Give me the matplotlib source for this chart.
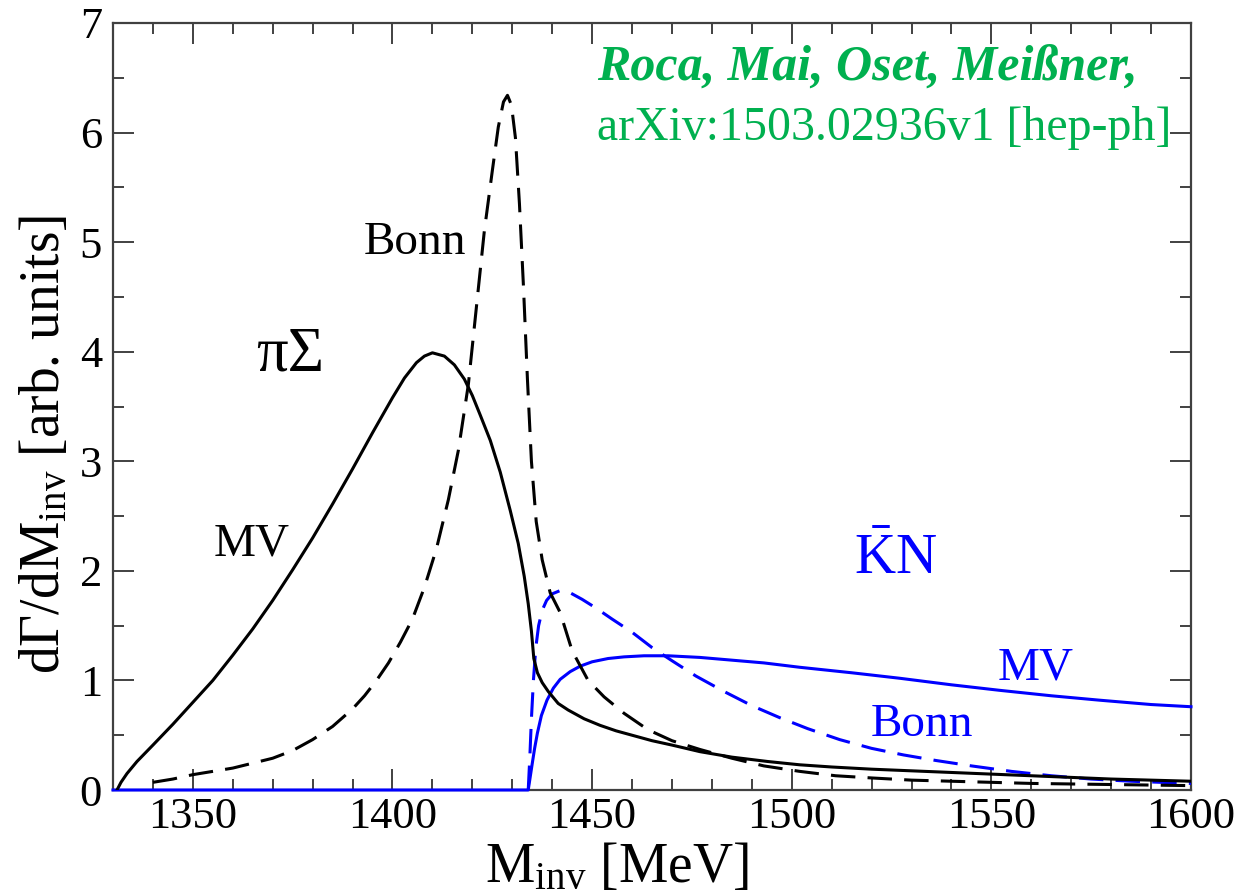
import matplotlib
matplotlib.use("Agg")
import matplotlib.pyplot as plt
from matplotlib.ticker import MultipleLocator

plt.rcParams['font.family'] = ['Liberation Serif', 'DejaVu Serif']
plt.rcParams['mathtext.fontset'] = 'custom'
plt.rcParams['mathtext.rm'] = 'Liberation Serif'
plt.rcParams['mathtext.it'] = 'Liberation Serif:italic'
plt.rcParams['mathtext.bf'] = 'Liberation Serif:bold'

# pi Sigma, MV (solid black)
pisig_mv_x = [1331, 1332, 1333.5, 1336, 1340, 1345, 1350, 1355, 1360, 1365, 1370, 1375,
              1380, 1385, 1390, 1395, 1400, 1403, 1406, 1408, 1410, 1413, 1415.5, 1418,
              1420, 1422, 1424.5, 1427, 1429.5, 1431.5, 1433, 1434, 1434.8, 1435.4,
              1436.3, 1437.5, 1439, 1441.5, 1444, 1448, 1452, 1456, 1460, 1465, 1470,
              1477, 1485, 1494, 1502, 1510, 1520, 1530, 1540, 1550, 1560, 1570, 1580,
              1590, 1600]
pisig_mv_y = [0.0, 0.07, 0.15, 0.26, 0.41, 0.6, 0.8, 1.0, 1.23, 1.47, 1.73, 2.01,
              2.3, 2.61, 2.93, 3.26, 3.58, 3.76, 3.9, 3.96, 3.99, 3.96, 3.88, 3.75,
              3.6, 3.42, 3.19, 2.9, 2.55, 2.25, 1.95, 1.7, 1.45, 1.2,
              1.07, 0.98, 0.9, 0.79, 0.73, 0.65, 0.59, 0.54, 0.5, 0.45, 0.41,
              0.35, 0.3, 0.26, 0.23, 0.21, 0.19, 0.175, 0.16, 0.145, 0.13, 0.115, 0.1,
              0.09, 0.08]

# pi Sigma, Bonn (dashed black)
pisig_bonn_x = [1340, 1345, 1350, 1355, 1360, 1365, 1370, 1375, 1380, 1385, 1390, 1393,
                1396, 1399, 1402, 1405, 1408, 1411, 1414, 1416.5, 1419, 1421, 1423,
                1425, 1426.5, 1427.8, 1428.8, 1429.8, 1430.8, 1431.8, 1432.8, 1433.8,
                1434.8, 1436, 1437.5, 1439.5, 1442, 1445, 1449, 1453, 1458, 1464, 1470,
                1477, 1485, 1493, 1502, 1511, 1520, 1530, 1540, 1550, 1560, 1570, 1580,
                1590, 1600]
pisig_bonn_y = [0.07, 0.1, 0.14, 0.17, 0.2, 0.245, 0.29, 0.36, 0.46, 0.58, 0.74, 0.86,
                1.0, 1.16, 1.35, 1.56, 1.85, 2.2, 2.65, 3.1, 3.7, 4.4, 5.1,
                5.65, 6.05, 6.28, 6.34, 6.25, 5.95, 5.35, 4.6, 3.75,
                3.0, 2.45, 2.1, 1.8, 1.62, 1.27, 1.0, 0.85, 0.7, 0.55, 0.45,
                0.37, 0.29, 0.22, 0.17, 0.13, 0.11, 0.09, 0.08, 0.07, 0.06, 0.055, 0.05,
                0.045, 0.04]

# Kbar N, MV (solid blue)
kn_mv_x = [1330, 1434, 1434.5, 1435, 1435.6, 1436.3, 1437.3, 1438.7, 1440.3, 1442,
           1444.5, 1447, 1450, 1454, 1458, 1463, 1469, 1477, 1485, 1493, 1502, 1515,
           1527, 1540, 1552, 1565, 1577, 1590, 1600]
kn_mv_y = [0.0, 0.0, 0.12, 0.24, 0.38, 0.52, 0.68, 0.82, 0.93, 1.01,
           1.08, 1.13, 1.17, 1.2, 1.215, 1.225, 1.225, 1.21, 1.185, 1.16, 1.12, 1.07,
           1.02, 0.96, 0.91, 0.86, 0.82, 0.78, 0.76]

# Kbar N, Bonn (dashed blue)
kn_bonn_x = [1434, 1434.4, 1434.8, 1435.3, 1435.9, 1436.6, 1437.5, 1438.6, 1440, 1442,
             1444.5, 1447.5, 1451, 1455, 1460, 1465, 1470, 1476, 1483, 1490, 1497,
             1504, 1512, 1520, 1528, 1536, 1545, 1555, 1565, 1575, 1585, 1600]
kn_bonn_y = [0.0, 0.3, 0.65, 1.0, 1.3, 1.5, 1.64, 1.73, 1.79, 1.82,
             1.8, 1.74, 1.66, 1.56, 1.44, 1.3, 1.18, 1.04, 0.9, 0.77, 0.66,
             0.56, 0.46, 0.38, 0.32, 0.27, 0.22, 0.17, 0.13, 0.1, 0.08, 0.06]

fig = plt.figure(figsize=(12.36, 8.93), dpi=100)
ax = fig.add_axes([113 / 1236, 103 / 893, 1078 / 1236, 767 / 893])

ax.plot(kn_mv_x, kn_mv_y, color='#0000ff', lw=2.2, clip_on=False, zorder=3)
ax.plot(kn_bonn_x, kn_bonn_y, color='#0000ff', lw=2.2, dashes=(8, 4), zorder=3)
ax.plot(pisig_mv_x, pisig_mv_y, color='black', lw=2.2, zorder=4)
ax.plot(pisig_bonn_x, pisig_bonn_y, color='black', lw=2.2, dashes=(8, 4), zorder=4)

ax.set_xlim(1330, 1600)
ax.set_ylim(0, 7)
ax.xaxis.set_major_locator(MultipleLocator(50))
ax.xaxis.set_minor_locator(MultipleLocator(10))
ax.yaxis.set_major_locator(MultipleLocator(1))
ax.yaxis.set_minor_locator(MultipleLocator(0.5))
ax.tick_params(which='both', direction='in', top=True, right=True,
               color='#333333', width=1.3, labelsize=32)
ax.tick_params(which='major', length=15, pad=8)
ax.tick_params(axis='x', which='major', pad=5)
ax.tick_params(which='minor', length=8)
for s in ax.spines.values():
    s.set_color('#404040')
    s.set_linewidth(1.6)

ax.set_xlabel(r'M$_{\mathrm{inv}}$ [MeV]', fontsize=40)
ax.set_ylabel(r'dΓ/dM$_{\mathrm{inv}}$ [arb. units]', fontsize=40)
ax.xaxis.label.set_va('baseline')
ax.xaxis.set_label_coords(0.467, -0.12)
ax.yaxis.label.set_va('center')
ax.yaxis.set_label_coords(-0.063, 0.45)

ax.text(1405.6, 4.99, 'Bonn', fontsize=34, ha='center', va='center')
ax.text(1374.3, 3.97, 'πΣ', fontsize=45, ha='center', va='center')
ax.text(1364.8, 2.24, 'MV', fontsize=34, ha='center', va='center')
ax.text(1526.1, 2.1, r'$\bar{\mathrm{K}}$N', fontsize=41, ha='center', va='center',
        color='#0000ff')
ax.text(1561.2, 1.11, 'MV', fontsize=34, ha='center', va='center', color='#0000ff')
ax.text(1532.6, 0.60, 'Bonn', fontsize=34, ha='center', va='center', color='#0000ff')

ax.text(1451.2, 6.59, 'Roca, Mai, Oset, Meißner,', fontsize=36, ha='left',
        va='center', color='#00b04f', fontweight='bold', fontstyle='italic')
ax.text(1451.2, 6.04, 'arXiv:1503.02936v1 [hep-ph]', fontsize=34.5, ha='left',
        va='center', color='#00b04f')

fig.savefig('out.png', dpi=100)
